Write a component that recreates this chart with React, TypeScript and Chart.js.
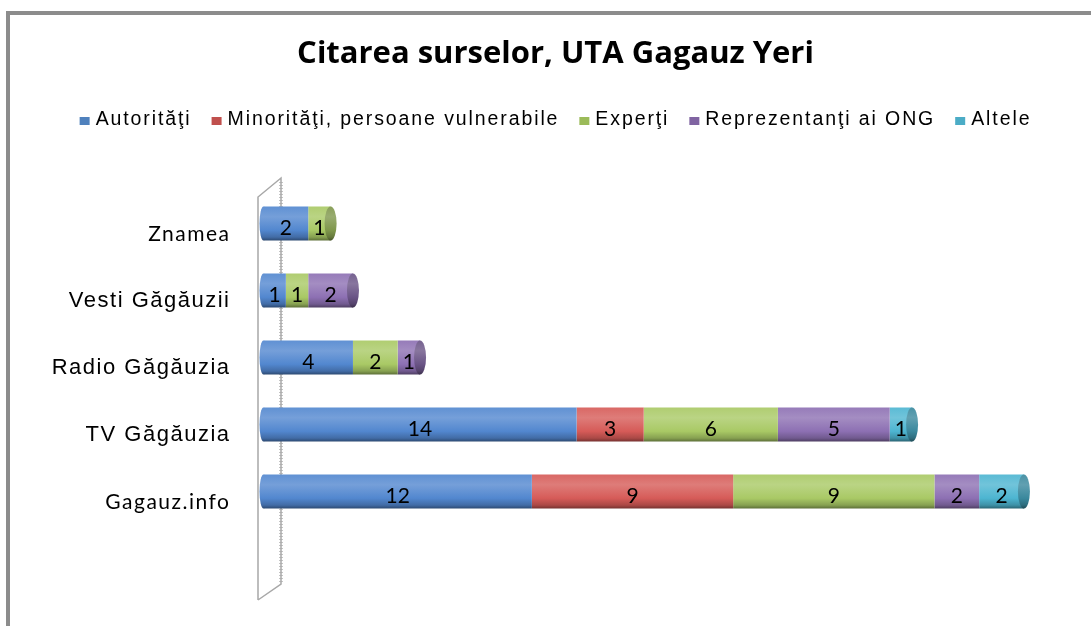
import React, { useEffect, useRef } from 'react';
import { Chart, registerables } from 'chart.js';

Chart.register(...registerables);

// ---------- data ----------
const categories = ['Znamea', 'Vesti Găgăuzii', 'Radio Găgăuzia', 'TV Găgăuzia', 'Gagauz.info'];
const seriesNames = ['Autorităţi', 'Minorităţi, persoane vulnerabile', 'Experţi', 'Reprezentanţi ai ONG', 'Altele'];
const autoritati = [2, 1, 4, 14, 12];
const minoritati = [0, 0, 0, 3, 9];
const experti = [1, 1, 2, 6, 9];
const ong = [0, 2, 1, 5, 2];
const altele = [0, 0, 0, 1, 2];
const seriesData = [autoritati, minoritati, experti, ong, altele];
const chartTitle = 'Citarea surselor, UTA Gagauz Yeri';

// ---------- styles ----------
const faceColors = ['#5287CF', '#D65B58', '#A9C965', '#8D70B3', '#4DB5D1'];
const legendColors = ['#4F81BD', '#C0504D', '#9BBB59', '#8064A2', '#4BACC6'];
const calibriLike = new Set(['Znamea', 'Gagauz.info']);
const BAR_PCT = 0.507;

function hexToRgb(h: string) {
  const n = parseInt(h.slice(1), 16);
  return [(n >> 16) & 255, (n >> 8) & 255, n & 255];
}
function mix(h: string, t: string, a: number) {
  const c = hexToRgb(h);
  const d = hexToRgb(t);
  const r = c.map((v, i) => Math.max(0, Math.min(255, Math.round(v + (d[i] - v) * a))));
  return '#' + r.map((v) => v.toString(16).padStart(2, '0')).join('');
}

function cylGradient(ctx: CanvasRenderingContext2D, color: string, yc: number, h: number, dark = 0) {
  const base = dark ? mix(color, '#000000', dark) : color;
  const g = ctx.createLinearGradient(0, yc - h / 2, 0, yc + h / 2);
  g.addColorStop(0, mix(base, '#ffffff', 0.08));
  g.addColorStop(0.3, mix(base, '#ffffff', 0.2));
  g.addColorStop(0.7, base);
  g.addColorStop(0.9, mix(base, '#000000', 0.2));
  g.addColorStop(1, mix(base, '#000000', 0.45));
  return g;
}

function barBg(c: any, color: string) {
  const chart = c.chart;
  const ys = chart.scales && chart.scales.y;
  const area = chart.chartArea;
  if (!ys || !area || c.dataIndex == null) return color;
  const yc = ys.getPixelForValue(c.dataIndex);
  const band = (area.bottom - area.top) / categories.length;
  return cylGradient(chart.ctx, color, yc, band * BAR_PCT);
}

const tickSpacingPlugin = {
  id: 'tickSpacing',
  beforeDraw(chart: any) {
    const ys = chart.scales.y;
    if (ys && !ys.__patched) {
      const orig = ys.drawLabels.bind(ys);
      ys.drawLabels = (a: any) => {
        const c = chart.ctx;
        c.save();
        if ('letterSpacing' in c) (c as any).letterSpacing = '1.5px';
        orig(a);
        c.restore();
      };
      ys.__patched = true;
    }
  },
};

const wallPlugin = {
  id: 'wall',
  beforeDatasetsDraw(chart: any) {
    const ctx = chart.ctx;
    const { left, top, bottom } = chart.chartArea;
    const fx = left - 5.5;
    const bx = left + 17.5;
    const fTop = top + 7;
    const bTop = top - 12;
    const fBot = bottom + 75;
    const bBot = bottom + 59;
    ctx.save();
    ctx.strokeStyle = '#c4c4c4';
    ctx.lineWidth = 1;
    for (let y = bTop + 4; y < bBot; y += 3) {
      ctx.beginPath();
      ctx.moveTo(bx - 2, y + 0.5);
      ctx.lineTo(bx + 2, y + 0.5);
      ctx.stroke();
    }
    ctx.strokeStyle = '#a8a8a8';
    ctx.lineWidth = 1.5;
    ctx.beginPath();
    ctx.moveTo(fx, fBot);
    ctx.lineTo(fx, fTop);
    ctx.lineTo(bx, bTop);
    ctx.lineTo(bx, bBot);
    ctx.lineTo(fx, fBot);
    ctx.stroke();
    for (let i = 0; i < categories.length; i++) {
      for (let d = 0; d < seriesData.length; d++) {
        if (seriesData[d][i] > 0) {
          const el = chart.getDatasetMeta(d).data[i];
          ctx.fillStyle = cylGradient(ctx, faceColors[d], el.y, el.height);
          ctx.beginPath();
          ctx.ellipse(el.base, el.y, 4, el.height / 2, 0, 0, Math.PI * 2);
          ctx.fill();
          break;
        }
      }
    }
    ctx.restore();
  },
};

const capsLabelsPlugin = {
  id: 'capsLabels',
  afterDatasetsDraw(chart: any) {
    const ctx = chart.ctx;
    ctx.save();
    for (let i = 0; i < categories.length; i++) {
      for (let d = seriesData.length - 1; d >= 0; d--) {
        if (seriesData[d][i] > 0) {
          const el = chart.getDatasetMeta(d).data[i];
          ctx.fillStyle = cylGradient(ctx, faceColors[d], el.y, el.height, 0.25);
          ctx.beginPath();
          ctx.ellipse(el.x, el.y, 6, el.height / 2, 0, 0, Math.PI * 2);
          ctx.fill();
          break;
        }
      }
    }
    ctx.font = '21px Lato, "Open Sans", sans-serif';
    ctx.fillStyle = '#000';
    ctx.textAlign = 'center';
    ctx.textBaseline = 'middle';
    for (let d = 0; d < seriesData.length; d++) {
      const meta = chart.getDatasetMeta(d);
      seriesData[d].forEach((v, i) => {
        if (!v) return;
        const el = meta.data[i];
        ctx.fillText(String(v), (el.x + el.base) / 2, el.y + 5);
      });
    }
    ctx.restore();
  },
};

const legendPlugin = {
  id: 'customLegend',
  afterDraw(chart: any) {
    const ctx = chart.ctx;
    ctx.save();
    ctx.font = '19.5px "Liberation Sans", Arial, sans-serif';
    const supports = 'letterSpacing' in ctx;
    const sp = supports ? 1.9 : 0;
    const boxW = 10;
    const boxH = 8;
    const gapBoxText = 6;
    const gapItems = 20;
    const widths = seriesNames.map((t) => ctx.measureText(t).width + sp * Array.from(t).length);
    const total = widths.reduce((s, w) => s + boxW + gapBoxText + w, 0) + gapItems * (seriesNames.length - 1);
    const tb = chart.titleBlock;
    const cx = tb ? (tb.left + tb.right) / 2 : chart.width / 2;
    const baseline = chart.chartArea.top - 65;
    let x = cx - total / 2;
    if (supports) (ctx as any).letterSpacing = sp + 'px';
    ctx.textAlign = 'left';
    ctx.textBaseline = 'alphabetic';
    seriesNames.forEach((t, i) => {
      ctx.fillStyle = legendColors[i];
      ctx.fillRect(x, baseline - boxH, boxW, boxH);
      ctx.fillStyle = '#000';
      ctx.fillText(t, x + boxW + gapBoxText, baseline);
      x += boxW + gapBoxText + widths[i] + gapItems;
    });
    ctx.restore();
  },
};

export default function App() {
  const ref = useRef<HTMLCanvasElement>(null);

  useEffect(() => {
    document.body.style.margin = '0';
    const canvas = ref.current;
    if (!canvas) return;
    Chart.defaults.color = '#000';
    const chart = new Chart(canvas, {
      type: 'bar',
      data: {
        labels: categories,
        datasets: seriesNames.map((name, i) => ({
          label: name,
          data: seriesData[i],
          backgroundColor: (c: any) => barBg(c, faceColors[i]),
          borderWidth: 0,
          barPercentage: BAR_PCT,
          categoryPercentage: 1,
        })),
      },
      options: {
        indexAxis: 'y',
        responsive: false,
        animation: false,
        layout: { padding: { left: 20, right: 0, top: 0, bottom: 101 } },
        scales: {
          x: { stacked: true, display: false, min: 0, max: 37 },
          y: {
            stacked: true,
            grid: { display: false, drawTicks: false },
            border: { display: false },
            ticks: {
              autoSkip: false,
              padding: 33,
              labelOffset: 10.5,
              color: '#000',
              font: (c: any) => {
                const lbl = categories[c.index];
                return calibriLike.has(lbl)
                  ? { family: 'Lato, "Open Sans", sans-serif', size: 21 }
                  : { family: '"Liberation Sans", Arial, sans-serif', size: 22 };
              },
            },
            afterFit: (s: any) => {
              s.width = 243.5;
            },
          },
        },
        plugins: {
          legend: { display: false },
          tooltip: { enabled: false },
          title: {
            display: true,
            text: chartTitle,
            color: '#000',
            font: { family: '"Open Sans", Lato, sans-serif', size: 31, weight: 'bold' },
            padding: { top: 36, bottom: 116.8 },
          },
        },
      } as any,
      plugins: [tickSpacingPlugin, wallPlugin, capsLabelsPlugin, legendPlugin],
    });
    return () => chart.destroy();
  }, []);

  return (
    <div style={{ position: 'relative', width: 1091, height: 626, overflow: 'hidden', background: '#fff' }}>
      <canvas ref={ref} width={1091} height={626} style={{ display: 'block' }} />
      <div
        style={{
          position: 'absolute',
          left: 6,
          top: 11,
          width: 1200,
          height: 800,
          border: '4px solid #8c8c8c',
          boxSizing: 'border-box',
          pointerEvents: 'none',
        }}
      />
    </div>
  );
}
